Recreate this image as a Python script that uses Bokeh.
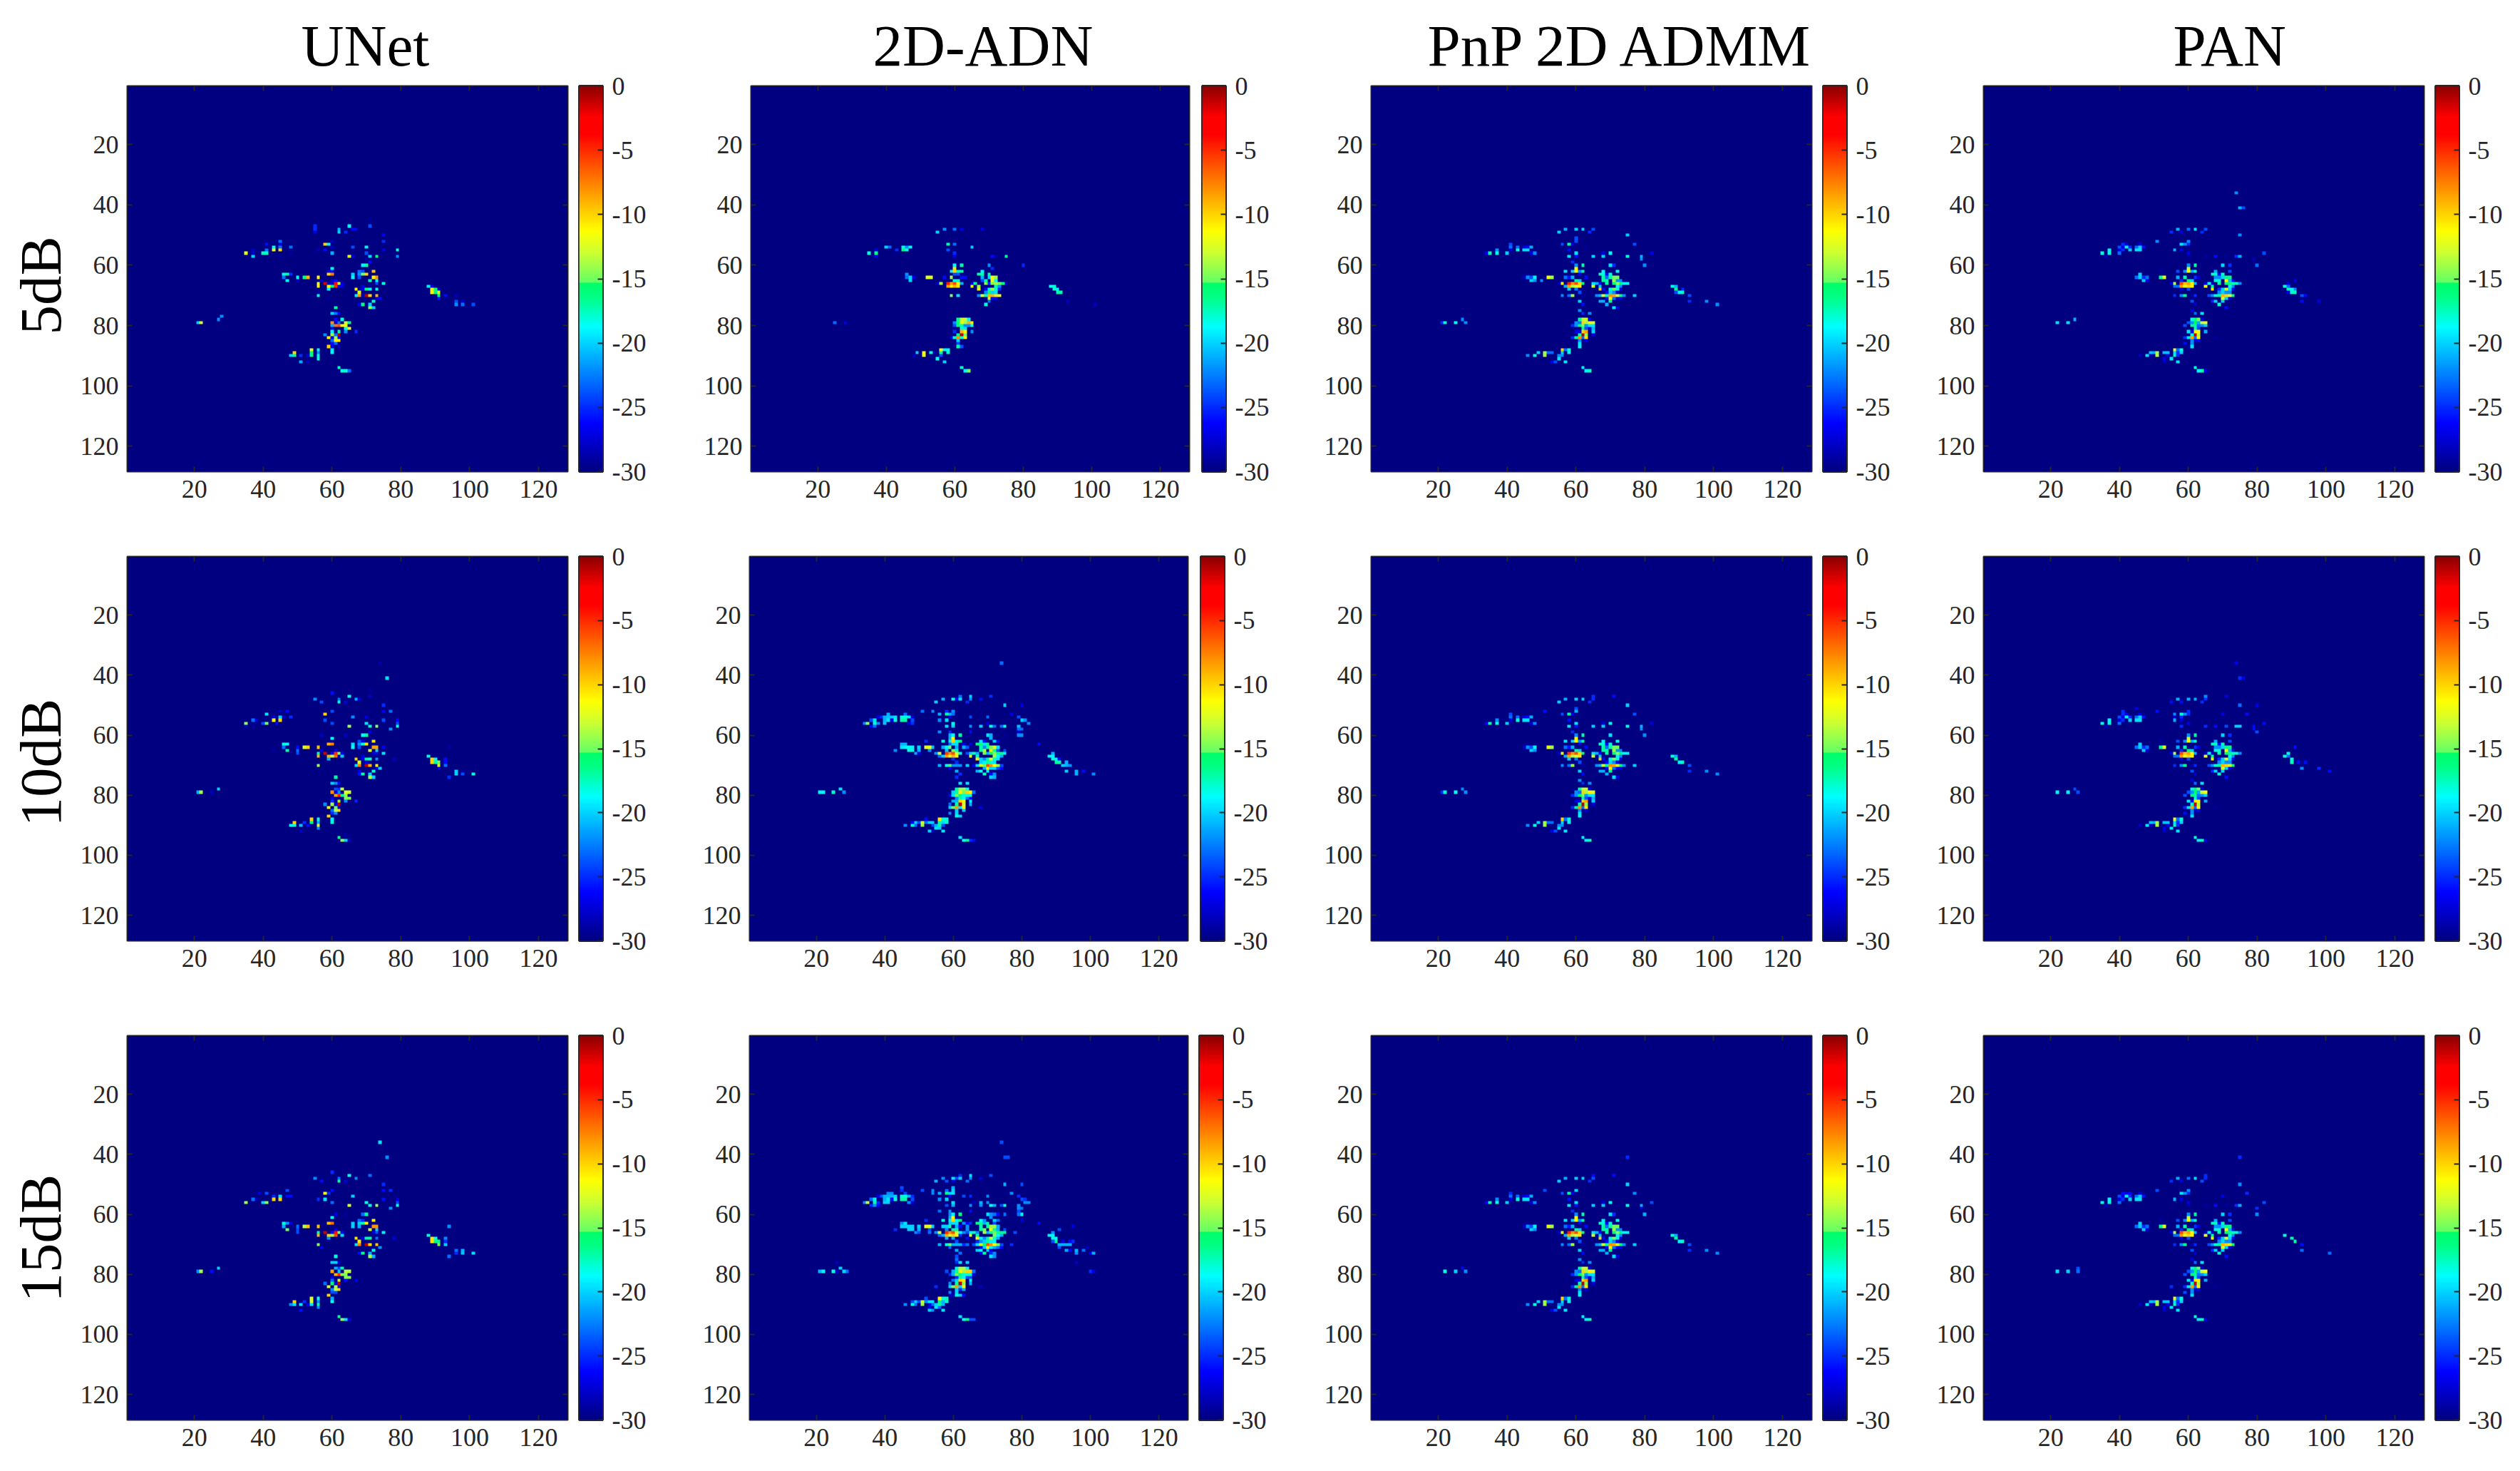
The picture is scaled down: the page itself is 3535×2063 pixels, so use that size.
import numpy as np
from bokeh.embed import file_html
from bokeh.resources import INLINE
from bokeh.layouts import column, row
from bokeh.models import FixedTicker, LinearAxis, LinearColorMapper, Range1d, Title
from bokeh.plotting import figure

col_titles = ["UNet", "2D-ADN", "PnP 2D ADMM", "PAN"]
row_titles = ["5dB", "10dB", "15dB"]
axis_ticks = [20, 40, 60, 80, 100, 120]
bar_ticks = [-30, -25, -20, -15, -10, -5, 0]

# (column, row, dB) for each pixel above the -30 dB floor
r1c1 = [(71,45,-29),(55,47,-25),(65,47,-19),(71,47,-24),(55,48,-25),(62,48,-21),(66,48,-26),(67,48,-26),(55,49,-27),(62,49,-20),(64,49,-25),(75,50,-27),(60,52,-28),(75,52,-25),(45,52,-23),(41,53,-26),(45,53,-27),(58,53,-10),(59,53,-19),(43,54,-19),(45,54,-23),(48,54,-23),(60,54,-28),(66,54,-24),(70,54,-19),(37,55,-28),(41,55,-23),(43,55,-12),(45,55,-10),(56,55,-28),(58,55,-26),(75,55,-27),(79,55,-18),(35,56,-12),(37,56,-28),(40,56,-17.5),(41,56,-17.5),(48,56,-29),(60,56,-21),(70,56,-24),(37,57,-20),(45,57,-29),(65,57,-12),(66,57,-27),(71,57,-20),(73,57,-16),(79,57,-22),(70,58,-29),(71,59,-26),(69,60,-19),(70,60,-17),(60,61,-18),(59,62,-27),(60,62,-26),(68,62,-23),(69,62,-24),(72,62,-9.5),(59,63,-10),(60,63,-7.5),(66,63,-20),(68,63,-22),(69,63,-15),(70,63,-10),(46,63,-18),(47,63,-17),(48,63,-25),(46,64,-23),(50,64,-19),(52,64,-16),(53,64,-9),(56,64,-11),(66,64,-19),(68,64,-24),(72,64,-11),(73,64,-8),(47,65,-19),(50,65,-28),(57,65,-28),(60,65,-28),(61,65,-26),(71,65,-17.5),(73,65,-19),(56,66,-12),(58,66,-1.5),(59,66,-28),(60,66,-28),(61,66,-4),(62,66,-13),(63,66,-27),(73,66,-24),(75,66,-18),(56,67,-11),(59,67,-11),(60,67,-16),(61,67,-5),(62,67,-27),(63,67,-27),(69,67,-27),(88,67,-19),(89,67,-27),(59,68,-19),(67,68,-11),(69,68,-27),(70,68,-16),(71,68,-19),(73,68,-18),(89,68,-11),(90,68,-16.5),(91,68,-28),(56,69,-29),(68,69,-12.5),(89,69,-11),(90,69,-16),(91,69,-13),(56,70,-18),(67,70,-19),(68,70,-8),(69,70,-28),(70,70,-1),(71,70,-10),(73,70,-9),(91,70,-16),(93,70,-26),(96,70,-28),(59,71,-29),(73,71,-27),(74,71,-26),(91,71,-26),(72,72,-17.5),(96,72,-24),(98,72,-28),(68,73,-27),(69,73,-16),(71,73,-20),(96,73,-22),(98,73,-23),(101,73,-24),(61,74,-17),(71,74,-14.5),(72,74,-20),(60,76,-20),(61,76,-23),(62,76,-26),(28,77,-22),(27,78,-22),(61,78,-26),(63,78,-18),(21,79,-20),(22,79,-13),(60,79,-8),(61,79,-27),(62,79,-23),(64,79,-13),(65,79,-16),(60,80,-21),(61,80,-7),(62,80,-6),(63,80,-11),(64,80,-11),(60,81,-27),(64,81,-18),(65,81,-12),(60,82,-19),(62,82,-17),(64,82,-22),(67,82,-25),(58,83,-22),(60,83,-14),(61,83,-23),(62,83,-1),(59,84,-11),(60,84,-27),(61,84,-14),(62,84,-27),(60,85,-23),(61,85,-11),(62,85,-11),(60,86,-26),(61,86,-23),(59,87,-10),(60,87,-27),(62,87,-28),(54,88,-12),(56,88,-19),(60,88,-19),(49,89,-10),(54,89,-16),(56,89,-22),(60,89,-19),(48,90,-20),(49,90,-17),(51,90,-25),(53,90,-27),(54,90,-16),(56,90,-18),(56,91,-18),(51,92,-21),(53,92,-28),(62,94,-17.5),(63,95,-18),(64,95,-18),(65,95,-23)]

r1c2 = [(57,48,-22),(60,48,-23),(62,48,-27),(68,48,-27),(55,49,-20),(58,53,-17),(60,53,-23),(40,54,-20),(41,54,-23),(45,54,-18),(46,54,-22),(47,54,-19),(65,54,-20),(37,55,-27),(43,55,-25),(45,55,-16),(46,55,-18),(58,55,-24),(35,56,-18),(37,56,-16),(60,56,-25),(37,57,-27),(60,57,-27),(71,57,-26),(72,57,-29),(75,57,-17),(60,60,-19),(62,60,-17),(70,60,-22),(80,60,-25),(60,61,-10.5),(71,61,-25),(59,62,-19),(60,62,-10),(61,62,-17),(62,62,-17),(68,62,-19),(46,63,-22),(60,63,-24),(61,63,-24),(67,63,-17),(68,63,-17),(70,63,-17),(46,64,-23),(47,64,-20),(48,64,-27),(52,64,-12.5),(53,64,-12.5),(57,64,-26),(59,64,-14),(62,64,-26),(63,64,-26),(68,64,-21),(70,64,-20),(71,64,-12),(72,64,-14),(47,65,-20),(60,65,-18),(61,65,-18),(68,65,-24),(69,65,-17),(71,65,-12),(72,65,-19),(55,66,-28),(56,66,-14),(58,66,-4.5),(59,66,-8.5),(60,66,-6),(61,66,-11),(62,66,-21),(65,66,-27),(66,66,-17),(69,66,-14.5),(70,66,-25),(71,66,-14.5),(72,66,-14),(73,66,-15),(74,66,-16.5),(75,66,-28),(58,67,-8.5),(59,67,-11),(60,67,-9),(61,67,-10.5),(65,67,-12),(67,67,-14),(72,67,-17),(73,67,-22),(88,67,-18.5),(89,67,-18),(67,68,-11),(69,68,-26),(70,68,-18),(71,68,-14),(72,68,-18),(73,68,-25),(89,68,-18),(90,68,-19),(90,69,-17),(91,69,-17),(69,69,-22),(70,69,-16),(71,69,-20),(72,69,-19.5),(59,70,-14.5),(61,70,-19.5),(67,70,-22),(68,70,-13),(69,70,-17.5),(70,70,-9),(71,70,-9),(72,70,-10.5),(73,70,-12),(70,71,-13),(71,71,-26),(72,71,-26),(70,72,-23),(93,72,-28),(69,73,-18),(101,73,-28),(61,78,-16.5),(62,78,-13),(63,78,-13),(64,78,-19),(25,79,-23),(28,79,-27),(60,79,-22),(61,79,-16),(62,79,-11.5),(63,79,-14),(64,79,-9),(65,79,-11),(60,80,-24),(61,80,-16.5),(62,80,-17),(63,80,-22),(64,80,-22),(65,80,-18.5),(62,81,-18),(63,81,-19.5),(60,82,-25),(62,82,-9),(63,82,-11),(65,82,-22),(61,83,-16),(62,83,-1),(63,83,-15),(59,84,-27),(60,84,-18),(61,84,-8),(62,84,-18),(63,84,-11),(61,85,-20),(61,86,-24),(61,87,-17),(62,87,-24),(56,88,-11),(57,88,-19),(58,88,-19),(49,89,-20),(51,89,-11.5),(53,89,-18),(54,89,-28),(56,89,-17),(58,89,-17.5),(48,90,-28),(51,90,-12),(56,90,-24),(55,91,-18.5),(57,92,-20),(62,94,-17.5),(63,95,-19),(64,95,-15)]

r1c3 = [(57,48,-21),(60,48,-20),(62,48,-20),(65,48,-24),(55,49,-20),(64,49,-25),(75,50,-20),(60,51,-24),(60,52,-24),(41,53,-24),(56,53,-24),(58,53,-17),(59,53,-27),(77,53,-24),(41,54,-23),(43,54,-23),(45,54,-27),(46,54,-26),(47,54,-21),(63,54,-29),(37,55,-22),(41,55,-27),(43,55,-18),(45,55,-19.5),(46,55,-19.5),(58,55,-26),(34,56,-27),(35,56,-17),(37,56,-18),(40,56,-20),(47,56,-27),(48,56,-22),(60,56,-19.5),(68,56,-27),(70,56,-18.5),(82,56,-27),(58,57,-19.5),(60,57,-26),(65,57,-20),(68,57,-20),(75,57,-18),(79,57,-21),(79,58,-22),(59,59,-25),(60,60,-22),(62,60,-17),(70,60,-19.5),(71,60,-25),(80,60,-22),(60,61,-11),(57,62,-19.5),(59,62,-20),(60,62,-11),(61,62,-22),(62,62,-17),(68,62,-19),(72,62,-18.5),(46,63,-29),(61,63,-27),(67,63,-17.5),(68,63,-18),(69,63,-26),(70,63,-18),(45,64,-28),(46,64,-22),(47,64,-24),(48,64,-19),(52,64,-12),(53,64,-14),(57,64,-23),(58,64,-25.5),(59,64,-21),(63,64,-26),(68,64,-17),(69,64,-23),(70,64,-17),(71,64,-15),(72,64,-15),(47,65,-20),(48,65,-22),(50,65,-22),(60,65,-17),(61,65,-20),(68,65,-17),(69,65,-17),(71,65,-14),(72,65,-22),(73,65,-22),(55,66,-28),(56,66,-12),(58,66,-4.5),(59,66,-8),(60,66,-6),(61,66,-10),(62,66,-16.5),(65,66,-19.5),(66,66,-21),(67,66,-26),(69,66,-17),(71,66,-16),(72,66,-14.5),(73,66,-16),(74,66,-19),(75,66,-19),(57,67,-21),(58,67,-8.5),(59,67,-14),(60,67,-12.5),(61,67,-10.5),(65,67,-13),(67,67,-20),(72,67,-19),(73,67,-22),(88,67,-18),(89,67,-21),(58,68,-20),(60,68,-22.5),(67,68,-10),(68,68,-26),(70,68,-18),(71,68,-15),(72,68,-18),(73,68,-27),(89,68,-16.5),(91,68,-25),(61,69,-24),(69,69,-26),(70,69,-20),(71,69,-22),(72,69,-27),(89,69,-24),(90,69,-19),(91,69,-17.5),(56,70,-22),(58,70,-23),(59,70,-14),(62,70,-29),(66,70,-22),(67,70,-21),(68,70,-13),(69,70,-17),(70,70,-8),(71,70,-8.5),(72,70,-13),(73,70,-16),(74,70,-22),(77,70,-20),(93,70,-24),(69,71,-26),(70,71,-11),(71,71,-23),(72,71,-27),(73,71,-27),(61,72,-20),(67,72,-21),(68,72,-21),(70,72,-17),(93,72,-25),(98,72,-22),(62,73,-26),(69,73,-21),(101,73,-22),(71,74,-19.5),(72,74,-27),(61,75,-22),(62,76,-25),(64,76,-22),(61,78,-17),(62,78,-13),(63,78,-13),(64,78,-27),(27,78,-22),(21,79,-25),(22,79,-18),(25,79,-18.5),(28,79,-22),(60,79,-22),(61,79,-23),(62,79,-10),(63,79,-14),(64,79,-11),(65,79,-12.5),(59,80,-25),(60,80,-22),(61,80,-16),(62,80,-15),(63,80,-22),(64,80,-19.5),(65,80,-19.5),(62,81,-17),(63,81,-24),(64,81,-27),(65,81,-21),(60,82,-27),(61,82,-27),(62,82,-10),(63,82,-8.5),(65,82,-20),(61,83,-17),(62,83,-1),(63,83,-14.5),(65,83,-27),(59,84,-25),(60,84,-16.5),(61,84,-8),(62,84,-23),(63,84,-10.5),(61,85,-22),(63,85,-27),(61,86,-19.5),(61,87,-19),(56,88,-10),(57,88,-23),(58,88,-18),(49,89,-20),(51,89,-14),(52,89,-23),(53,89,-23),(56,89,-20),(58,89,-19),(46,90,-22),(48,90,-18),(51,90,-14),(55,90,-22),(56,90,-22),(55,91,-19.5),(53,92,-27),(54,92,-24),(57,92,-19.5),(62,94,-19),(63,95,-19),(64,95,-17.5)]

r1c4 = [(74,36,-22),(75,41,-21),(76,41,-24),(57,48,-21),(60,48,-23),(62,48,-19.5),(65,48,-24),(55,49,-25),(58,49,-27),(64,49,-25),(75,50,-22),(51,52,-22),(60,52,-22),(41,53,-25),(42,53,-27),(46,53,-27),(58,53,-19.5),(59,53,-22),(60,53,-25),(40,54,-24),(41,54,-27),(42,54,-19),(43,54,-25),(45,54,-23),(46,54,-20),(47,54,-26),(40,55,-27),(41,55,-25),(43,55,-20),(45,55,-19.5),(46,55,-19.5),(56,55,-21),(58,55,-27),(37,55,-19),(35,56,-18),(37,56,-18),(40,56,-23),(60,56,-27),(82,56,-24),(36,57,-28),(60,57,-29),(65,57,-29),(68,57,-26),(71,57,-29),(74,57,-25),(75,57,-21),(79,58,-28),(60,60,-22),(62,60,-17),(70,60,-20),(72,60,-25),(80,60,-23),(60,61,-13),(52,62,-29),(57,62,-24),(59,62,-22),(60,62,-11.5),(61,62,-21),(62,62,-18),(68,62,-21),(72,62,-24),(46,63,-20),(67,63,-17.5),(68,63,-17.5),(69,63,-26),(70,63,-17.5),(45,64,-23),(46,64,-20),(47,64,-25),(48,64,-23),(52,64,-16.5),(53,64,-12.5),(57,64,-21),(59,64,-17),(62,64,-25),(63,64,-27),(68,64,-22),(69,64,-22),(70,64,-20),(71,64,-16.5),(72,64,-16.5),(47,65,-20),(48,65,-27),(58,65,-25),(60,65,-16.5),(61,65,-20),(68,65,-18),(69,65,-18),(71,65,-11),(72,65,-21),(73,65,-26),(91,65,-27),(55,66,-27),(56,66,-13.5),(58,66,-6),(59,66,-9.5),(60,66,-8.5),(61,66,-11),(62,66,-21),(65,66,-27),(66,66,-19),(67,66,-28),(69,66,-17),(71,66,-16.5),(72,66,-16),(73,66,-17.5),(74,66,-17.5),(75,66,-22),(89,66,-27),(56,67,-23),(57,67,-23),(58,67,-8.5),(59,67,-12.5),(60,67,-10),(61,67,-11),(65,67,-12),(67,67,-17),(72,67,-18),(73,67,-22),(88,67,-18),(89,67,-23),(58,68,-27),(60,68,-24),(67,68,-11),(69,68,-25),(70,68,-20),(71,68,-13),(72,68,-20),(73,68,-26),(89,68,-17.5),(90,68,-19),(91,68,-22),(69,69,-22),(70,69,-20),(71,69,-22),(72,69,-22),(89,69,-27),(90,69,-17.5),(91,69,-17.5),(56,70,-25),(58,70,-22),(59,70,-16.5),(61,70,-29),(62,70,-25),(66,70,-24),(67,70,-22),(68,70,-18),(69,70,-17),(70,70,-9),(71,70,-10),(72,70,-12.5),(73,70,-16.5),(93,70,-24),(94,70,-26),(70,71,-13),(71,71,-20),(72,71,-27),(61,72,-24),(67,72,-25),(68,72,-20),(70,72,-20),(93,72,-26),(98,72,-27),(62,73,-28),(69,73,-18),(71,74,-26),(61,75,-27),(62,76,-23),(64,76,-19.5),(22,79,-19.5),(25,79,-19.5),(27,78,-21),(61,78,-18),(62,78,-16),(63,78,-15),(64,78,-27),(60,79,-24),(61,79,-22),(62,79,-15.5),(63,79,-21),(64,79,-13),(65,79,-12),(59,80,-24),(61,80,-16.5),(62,80,-17),(63,80,-23),(64,80,-22),(65,80,-20),(62,81,-18),(63,81,-24),(60,82,-19.5),(61,82,-27),(62,82,-11),(63,82,-11),(65,82,-21),(61,83,-18),(62,83,-1),(63,83,-13.5),(59,84,-25),(60,84,-19.5),(61,84,-8.5),(62,84,-23),(63,84,-11),(68,84,-29),(61,85,-22),(62,85,-28),(63,85,-26),(59,86,-26),(61,86,-22),(60,87,-29),(61,87,-19.5),(56,88,-12),(57,88,-23),(58,88,-18),(49,89,-20.5),(50,89,-21),(51,89,-14),(53,89,-20.5),(54,89,-20.5),(56,89,-19.5),(57,89,-25),(58,89,-20),(46,90,-28),(48,90,-19.5),(49,90,-28),(51,90,-13.5),(54,90,-27),(56,90,-17.5),(57,90,-25),(53,91,-27),(55,91,-19.5),(53,92,-28),(57,92,-19.5),(62,94,-18),(63,95,-19),(64,95,-17),(65,95,-27)]

r2c1 = [(74,36,-29),(76,41,-19.5),(71,45,-29),(60,46,-26),(65,47,-18.5),(71,47,-28),(55,48,-22),(62,48,-23),(67,48,-21),(68,48,-27),(57,49,-24),(62,49,-18),(64,49,-27),(75,50,-25),(45,52,-28),(47,52,-26),(60,52,-24),(75,52,-27),(77,52,-23),(41,53,-19.5),(58,53,-10),(43,54,-27),(45,54,-20),(46,54,-28),(48,54,-25),(66,54,-22),(70,54,-27),(37,55,-23),(38,55,-27),(43,55,-11),(45,55,-10),(58,55,-24),(75,55,-24),(79,55,-26),(35,56,-14.5),(40,56,-24),(41,56,-15),(44,56,-26),(60,56,-24),(70,56,-19.5),(79,56,-24),(35,57,-28),(37,57,-29),(65,57,-14),(71,57,-17.5),(73,57,-14.5),(79,57,-18),(77,58,-22),(71,59,-27),(57,60,-28),(64,60,-28),(69,60,-18.5),(70,60,-17),(60,61,-18.5),(68,62,-24),(69,62,-27),(72,62,-10.5),(46,63,-18),(47,63,-19),(59,63,-9),(60,63,-7.5),(66,63,-19.5),(68,63,-22),(69,63,-18),(70,63,-10.5),(46,64,-23),(50,64,-26),(52,64,-12.5),(53,64,-10),(56,64,-9.5),(66,64,-18.5),(68,64,-24),(72,64,-8.5),(73,64,-8.5),(75,64,-27),(94,64,-29),(43,65,-29),(47,65,-17),(50,65,-23),(57,65,-27),(61,65,-27),(71,65,-12),(73,65,-20),(50,66,-24),(56,66,-17),(58,66,-1.5),(60,66,-26),(61,66,-5),(62,66,-14.5),(63,66,-26),(72,66,-27),(73,66,-27),(75,66,-19.5),(56,67,-9),(59,67,-9),(60,67,-13),(61,67,-7),(62,67,-28),(63,67,-20),(69,67,-27),(88,67,-18),(59,68,-21),(67,68,-10),(69,68,-27),(70,68,-16.5),(71,68,-18),(73,68,-22),(78,68,-28),(89,68,-10),(90,68,-19),(93,68,-26),(68,69,-12.5),(70,69,-27),(89,69,-10),(90,69,-17),(91,69,-15),(93,69,-26),(56,70,-14),(67,70,-19.5),(68,70,-7.5),(70,70,-1),(71,70,-9),(73,70,-11),(91,70,-12.5),(93,70,-23),(73,71,-27),(74,71,-20),(91,71,-27),(68,72,-27),(72,72,-18),(96,72,-20),(98,72,-29),(68,73,-26),(69,73,-17),(71,73,-20),(96,73,-20),(98,73,-24),(101,73,-18),(61,74,-17),(71,74,-14),(72,74,-20),(94,74,-25),(60,76,-20),(61,76,-22),(62,76,-26),(27,78,-20),(61,78,-24),(62,78,-25),(63,78,-13),(21,79,-21),(22,79,-14),(25,79,-28),(60,79,-8),(61,79,-27),(62,79,-22),(64,79,-12.5),(65,79,-13),(61,80,-8.5),(62,80,-4.5),(63,80,-17),(64,80,-14),(60,81,-27),(64,81,-15),(65,81,-14.5),(60,82,-25),(62,82,-14),(64,82,-22),(67,82,-25),(58,83,-22),(60,83,-14),(61,83,-27),(62,83,-1),(59,84,-11),(61,84,-15),(62,84,-27),(60,85,-23),(61,85,-13),(62,85,-10),(60,86,-25),(61,86,-22),(59,87,-10),(54,88,-10),(56,88,-18),(60,88,-19),(49,89,-10),(52,89,-25),(54,89,-16.5),(56,89,-21),(60,89,-18),(48,90,-19),(49,90,-18),(51,90,-20.5),(53,90,-26),(56,90,-12.5),(56,91,-22),(51,92,-28),(64,93,-29),(62,94,-16.5),(63,95,-14.5),(64,95,-20),(65,95,-28)]

r2c2 = [(74,36,-23),(62,47,-23),(65,47,-20),(71,47,-25),(57,48,-21),(60,48,-18),(61,48,-26),(62,48,-19.5),(65,48,-22),(68,48,-26),(55,49,-20),(64,49,-25),(75,50,-20),(80,50,-27),(51,52,-23),(54,52,-22),(58,52,-25),(60,52,-22),(41,53,-21),(46,53,-23),(56,53,-21),(58,53,-17),(59,53,-21),(60,53,-23),(77,53,-27),(38,54,-27),(39,54,-25),(40,54,-21),(41,54,-20.5),(42,54,-20.5),(43,54,-19.5),(45,54,-18),(46,54,-18),(47,54,-19.5),(48,54,-27),(59,54,-27),(65,54,-24),(70,54,-23),(79,54,-24),(36,55,-24),(37,55,-19.5),(40,55,-21),(41,55,-19.5),(42,55,-27),(43,55,-18),(45,55,-17),(46,55,-17),(48,55,-24),(56,55,-22),(58,55,-19.5),(80,55,-20),(81,55,-22),(34,56,-22),(35,56,-14.5),(37,56,-17.5),(38,56,-22),(40,56,-20.5),(47,56,-27),(48,56,-25),(60,56,-18),(70,56,-27),(82,56,-22),(36,57,-26),(37,57,-23),(58,57,-19.5),(60,57,-20),(65,57,-22),(68,57,-20),(71,57,-18),(72,57,-23),(74,57,-23),(75,57,-18.5),(79,57,-20.5),(79,58,-23),(80,58,-23),(56,59,-22),(59,59,-25),(65,59,-26),(79,59,-27),(59,60,-21),(60,60,-18.5),(62,60,-17),(70,60,-19.5),(71,60,-21),(75,60,-29),(79,60,-22),(80,60,-22),(59,61,-21),(60,61,-11),(71,61,-21),(52,62,-25),(57,62,-18),(59,62,-19),(60,62,-10),(61,62,-18),(62,62,-16.5),(68,62,-19.5),(69,62,-26),(72,62,-20),(73,62,-26),(45,63,-21),(46,63,-21),(59,63,-23),(60,63,-19.5),(61,63,-19.5),(63,63,-27),(65,63,-27),(67,63,-16.5),(68,63,-16.5),(69,63,-19.5),(70,63,-16.5),(85,63,-26),(45,64,-19.5),(46,64,-19),(47,64,-18.5),(48,64,-19),(50,64,-20),(52,64,-12.5),(53,64,-11.5),(54,64,-20.5),(57,64,-21),(58,64,-19),(59,64,-15),(61,64,-21),(63,64,-21),(64,64,-24),(68,64,-17),(69,64,-22),(70,64,-17),(71,64,-15),(72,64,-12.5),(73,64,-19.5),(43,65,-22),(47,65,-18),(48,65,-18),(50,65,-21),(53,65,-22),(58,65,-20.5),(60,65,-15),(61,65,-17.5),(68,65,-17),(69,65,-13.5),(71,65,-10.5),(72,65,-17),(73,65,-24),(75,65,-24),(49,66,-21),(50,66,-27),(55,66,-22),(56,66,-13),(58,66,-5.5),(59,66,-8),(60,66,-6),(61,66,-12.5),(62,66,-18),(64,66,-24),(65,66,-20),(66,66,-17.5),(67,66,-21),(69,66,-15),(70,66,-21),(71,66,-16),(72,66,-14.5),(73,66,-16.5),(74,66,-16.5),(75,66,-19),(89,66,-21),(56,67,-23),(57,67,-20),(58,67,-8.5),(59,67,-12.5),(60,67,-9),(61,67,-11),(65,67,-12),(67,67,-17.5),(72,67,-14),(73,67,-19),(74,67,-21),(88,67,-19),(89,67,-19),(60,68,-25),(67,68,-10.5),(68,68,-20),(69,68,-22),(70,68,-17),(71,68,-12.5),(72,68,-18),(73,68,-19.5),(89,68,-18),(90,68,-19),(91,68,-26),(61,69,-25),(68,69,-20),(69,69,-19),(70,69,-17),(71,69,-18),(72,69,-19.5),(90,69,-17),(91,69,-17),(93,69,-21),(56,70,-21),(58,70,-18.5),(59,70,-15),(60,70,-22),(61,70,-22),(62,70,-22),(64,70,-20),(66,70,-27),(67,70,-19.5),(68,70,-12.5),(69,70,-15),(70,70,-6),(71,70,-8),(72,70,-11.5),(73,70,-14),(74,70,-24),(92,70,-20),(93,70,-21),(94,70,-22),(59,71,-26),(69,71,-21),(70,71,-11),(71,71,-20),(72,71,-20),(73,71,-24),(74,71,-26),(61,72,-21),(67,72,-21),(68,72,-18.5),(70,72,-19),(93,72,-20),(96,72,-21),(98,72,-26),(62,73,-25),(69,73,-17.5),(71,73,-26),(72,73,-22),(96,73,-21),(101,73,-22),(61,74,-25),(71,74,-20),(72,74,-21),(62,76,-19.5),(64,76,-19.5),(27,78,-19.5),(61,78,-17),(62,78,-14),(63,78,-14),(64,78,-18.5),(21,79,-19),(22,79,-19),(25,79,-17.5),(28,79,-22),(60,79,-20),(61,79,-17),(62,79,-11),(63,79,-15),(64,79,-10),(65,79,-11),(66,79,-23),(59,80,-26),(60,80,-19.5),(61,80,-15),(62,80,-16.5),(63,80,-18),(64,80,-18),(65,80,-18),(61,81,-22),(62,81,-17),(63,81,-18.5),(64,81,-23),(65,81,-26),(60,82,-21),(61,82,-21),(62,82,-10),(63,82,-11),(65,82,-19),(59,83,-23),(61,83,-17),(62,83,-1),(63,83,-12.5),(65,83,-21),(59,84,-20),(60,84,-15),(61,84,-8.5),(62,84,-19.5),(63,84,-11),(68,84,-27),(61,85,-20),(63,85,-20),(59,86,-22),(61,86,-20),(61,87,-18),(62,87,-20),(52,88,-26),(56,88,-10.5),(57,88,-18),(58,88,-18),(48,89,-26),(49,89,-20),(50,89,-24),(51,89,-13),(52,89,-23),(53,89,-20),(54,89,-20),(56,89,-17),(57,89,-20),(58,89,-18),(46,90,-22),(48,90,-18),(49,90,-23),(51,90,-14),(54,90,-24),(55,90,-21),(56,90,-17),(57,90,-24),(55,91,-19.5),(56,91,-20),(53,92,-20),(54,92,-28),(57,92,-19.5),(62,94,-19.5),(63,95,-18.5),(64,95,-16.5),(65,95,-25),(66,95,-26)]

r3c1 = [(74,36,-19.5),(76,41,-22),(60,46,-25),(65,47,-18.5),(71,47,-23),(55,48,-22),(62,48,-23),(67,48,-22),(57,49,-26),(62,49,-17),(64,49,-27),(75,50,-25),(47,52,-24),(60,52,-26),(75,52,-26),(77,52,-25),(39,53,-27),(41,53,-24),(58,53,-11.5),(59,53,-25),(43,54,-25),(45,54,-19.5),(47,54,-26),(48,54,-26),(66,54,-20),(37,55,-23),(38,55,-28),(43,55,-10),(45,55,-10),(56,55,-25),(58,55,-19.5),(75,55,-26),(79,55,-27),(35,56,-14),(40,56,-20),(41,56,-14.5),(60,56,-23),(70,56,-18),(79,56,-24),(65,57,-12.5),(71,57,-18),(73,57,-14),(79,57,-18),(77,58,-22),(71,59,-29),(61,60,-27),(64,60,-29),(69,60,-23),(70,60,-17),(60,61,-18.5),(68,62,-23),(69,62,-25),(72,62,-11),(46,63,-18),(47,63,-22),(48,63,-27),(59,63,-9.5),(60,63,-7),(66,63,-20),(68,63,-20),(69,63,-17),(70,63,-11),(46,64,-21),(50,64,-23),(52,64,-13.5),(53,64,-9.5),(56,64,-9.5),(66,64,-20),(68,64,-21),(72,64,-8),(73,64,-8),(94,64,-22),(47,65,-15),(50,65,-24),(61,65,-27),(71,65,-12.5),(73,65,-20),(50,66,-24),(56,66,-17),(58,66,-1.5),(60,66,-26),(61,66,-4),(62,66,-15),(63,66,-26),(72,66,-27),(73,66,-24),(75,66,-19),(56,67,-9),(59,67,-10),(60,67,-14),(61,67,-6),(63,67,-19.5),(88,67,-18),(59,68,-22),(67,68,-10.5),(69,68,-27),(70,68,-17),(71,68,-17),(73,68,-23),(78,68,-27),(89,68,-10.5),(90,68,-18.5),(93,68,-22),(68,69,-10.5),(89,69,-10.5),(90,69,-16.5),(91,69,-16.5),(93,69,-25),(56,70,-14.5),(67,70,-19.5),(68,70,-7.5),(70,70,-1),(71,70,-10.5),(73,70,-9.5),(91,70,-15),(93,70,-20),(57,71,-27),(74,71,-22),(72,72,-18.5),(96,72,-23),(98,72,-21),(68,73,-26),(69,73,-16.5),(71,73,-21),(96,73,-25),(98,73,-20.5),(101,73,-19.5),(61,74,-18),(71,74,-14),(72,74,-21),(94,74,-23),(60,76,-20),(61,76,-20),(62,76,-27),(27,78,-20),(61,78,-21),(62,78,-24),(63,78,-17),(21,79,-22),(22,79,-14),(25,79,-26),(60,79,-8.5),(62,79,-20.5),(64,79,-13.5),(65,79,-13.5),(61,80,-9),(62,80,-5),(63,80,-14.5),(64,80,-14.5),(60,81,-27),(64,81,-14.5),(65,81,-14.5),(60,82,-23),(62,82,-13),(64,82,-26),(67,82,-27),(58,83,-23),(60,83,-15.5),(61,83,-27),(62,83,-1),(59,84,-12.5),(61,84,-13.5),(62,84,-27),(60,85,-22),(61,85,-13),(62,85,-10),(60,86,-24),(61,86,-24),(59,87,-10),(54,88,-12.5),(56,88,-18.5),(60,88,-21),(49,89,-10),(52,89,-25),(54,89,-13),(56,89,-22),(60,89,-18.5),(48,90,-22),(49,90,-19.5),(51,90,-19.5),(53,90,-27),(54,90,-19.5),(56,90,-17),(56,91,-22),(51,92,-26),(62,94,-16.5),(63,95,-14.5),(64,95,-19.5),(65,95,-27)]

r3c2 = [(74,36,-24),(75,41,-24),(76,41,-24),(62,47,-25),(65,47,-19.5),(71,47,-24),(57,48,-22),(60,48,-19.5),(61,48,-24),(62,48,-20),(65,48,-22),(68,48,-27),(55,49,-21),(58,49,-24),(60,49,-27),(64,49,-23),(75,50,-21),(80,50,-24),(45,51,-24),(60,51,-21),(45,52,-25),(51,52,-24),(54,52,-22),(58,52,-23),(60,52,-20),(41,53,-22),(42,53,-22),(46,53,-24),(54,53,-22),(56,53,-21),(58,53,-16.5),(59,53,-20),(60,53,-19.5),(77,53,-22),(38,54,-27),(39,54,-24),(40,54,-21),(41,54,-21),(42,54,-21),(43,54,-20),(45,54,-18),(46,54,-18),(47,54,-21),(48,54,-25),(59,54,-26),(63,54,-24),(65,54,-25),(70,54,-22),(79,54,-25),(36,55,-23),(37,55,-19),(40,55,-21),(41,55,-19.5),(42,55,-26),(43,55,-18),(45,55,-17),(46,55,-17),(48,55,-24),(56,55,-22),(58,55,-20),(80,55,-24),(81,55,-25),(34,56,-22),(35,56,-13),(37,56,-17),(38,56,-25),(40,56,-20),(41,56,-20),(47,56,-22),(48,56,-27),(60,56,-19.5),(66,56,-28),(68,56,-21),(70,56,-22),(81,56,-22),(82,56,-22),(36,57,-25),(37,57,-22),(38,57,-26),(58,57,-24),(60,57,-21),(65,57,-22),(68,57,-22),(71,57,-18.5),(72,57,-21),(74,57,-24),(75,57,-18),(79,57,-22),(79,58,-22),(80,58,-23),(56,59,-23),(59,59,-22),(65,59,-26),(79,59,-24),(59,60,-22),(60,60,-19),(62,60,-16.5),(70,60,-19.5),(71,60,-22),(72,60,-23),(73,60,-26),(75,60,-23),(79,60,-23),(80,60,-19),(59,61,-21),(60,61,-11),(71,61,-22),(52,62,-25),(57,62,-18),(59,62,-19),(60,62,-10),(61,62,-19),(62,62,-16),(68,62,-18.5),(69,62,-22),(72,62,-20),(73,62,-23),(80,62,-27),(45,63,-22),(46,63,-19.5),(59,63,-20),(60,63,-19.5),(61,63,-19.5),(63,63,-22),(64,63,-26),(65,63,-25),(67,63,-16.5),(68,63,-17),(69,63,-21),(70,63,-17),(72,63,-24),(85,63,-26),(45,64,-20),(46,64,-20),(47,64,-20),(48,64,-20),(50,64,-20),(52,64,-12),(53,64,-12),(54,64,-20),(57,64,-20),(58,64,-20),(59,64,-17),(61,64,-21),(62,64,-26),(64,64,-22),(68,64,-17),(70,64,-17),(71,64,-14),(72,64,-14),(73,64,-21),(95,64,-27),(43,65,-25),(47,65,-20),(48,65,-20),(50,65,-21),(53,65,-24),(58,65,-22),(60,65,-17),(61,65,-17),(64,65,-22),(68,65,-17),(69,65,-15),(71,65,-11),(72,65,-17),(73,65,-21),(75,65,-24),(91,65,-24),(49,66,-22),(50,66,-24),(53,66,-23),(55,66,-22),(56,66,-13),(58,66,-5),(59,66,-8),(60,66,-6),(61,66,-13),(62,66,-19),(63,66,-22),(64,66,-24),(65,66,-19),(66,66,-17.5),(67,66,-22),(69,66,-14),(70,66,-21),(71,66,-17),(72,66,-15),(73,66,-16.5),(74,66,-16.5),(75,66,-16.5),(78,66,-24),(89,66,-22),(56,67,-23),(57,67,-21),(58,67,-9),(59,67,-13),(60,67,-10),(61,67,-11),(62,67,-25),(65,67,-12.5),(67,67,-17),(72,67,-15),(73,67,-19),(74,67,-21),(88,67,-19),(89,67,-19),(58,68,-21),(60,68,-21),(64,68,-26),(67,68,-11),(68,68,-19),(69,68,-22),(70,68,-17),(71,68,-13),(72,68,-18),(73,68,-21),(89,68,-18),(90,68,-18.5),(61,69,-24),(67,69,-25),(68,69,-22),(69,69,-20),(70,69,-17),(71,69,-19),(72,69,-19),(89,69,-24),(90,69,-17),(92,69,-27),(94,69,-26),(95,69,-25),(56,70,-21),(58,70,-18),(59,70,-15),(60,70,-21),(61,70,-21),(62,70,-21),(63,70,-25),(64,70,-23),(66,70,-24),(67,70,-19.5),(68,70,-13),(69,70,-16),(70,70,-6),(71,70,-8),(72,70,-12),(73,70,-15),(74,70,-24),(77,70,-25),(91,70,-21),(92,70,-21),(93,70,-21),(94,70,-21),(59,71,-23),(68,71,-27),(69,71,-20),(70,71,-11),(71,71,-18),(72,71,-21),(73,71,-23),(74,71,-26),(91,71,-24),(99,71,-28),(61,72,-21),(67,72,-20),(68,72,-19),(70,72,-20),(71,72,-27),(93,72,-21),(94,72,-26),(96,72,-21),(98,72,-23),(62,73,-23),(68,73,-27),(69,73,-17),(71,73,-25),(72,73,-22),(96,73,-22),(100,73,-27),(101,73,-21),(61,74,-24),(71,74,-19.5),(72,74,-22),(61,75,-23),(26,76,-28),(61,76,-25),(62,76,-19.5),(64,76,-20),(96,76,-28),(27,78,-20),(61,78,-18),(62,78,-13.5),(63,78,-13.5),(64,78,-19),(21,79,-21),(22,79,-19),(25,79,-18),(26,79,-28),(28,79,-20),(29,79,-23),(58,79,-24),(60,79,-21),(61,79,-17),(62,79,-11.5),(63,79,-14),(64,79,-10),(65,79,-10),(66,79,-23),(100,79,-25),(101,79,-27),(59,80,-25),(60,80,-21),(61,80,-15),(62,80,-16),(63,80,-18),(64,80,-18),(65,80,-18),(66,80,-27),(61,81,-25),(62,81,-17),(63,81,-19),(64,81,-24),(65,81,-24),(60,82,-23),(61,82,-20),(62,82,-10),(63,82,-10.5),(65,82,-19),(59,83,-22),(61,83,-17),(62,83,-1),(63,83,-14),(65,83,-21),(55,84,-25),(59,84,-20),(60,84,-15),(61,84,-8.5),(62,84,-20),(63,84,-11),(68,84,-28),(61,85,-20),(62,85,-25),(63,85,-21),(59,86,-22),(61,86,-20),(59,87,-28),(60,87,-28),(61,87,-18),(62,87,-20),(63,87,-26),(52,88,-24),(56,88,-11),(57,88,-18),(58,88,-17.5),(48,89,-24),(49,89,-20),(50,89,-24),(51,89,-13),(52,89,-22),(53,89,-19.5),(54,89,-19.5),(56,89,-16),(57,89,-21),(58,89,-18),(46,90,-22),(48,90,-18),(49,90,-23),(51,90,-14),(53,90,-27),(54,90,-23),(55,90,-20),(56,90,-17),(57,90,-21),(53,91,-27),(55,91,-19.5),(56,91,-23),(53,92,-20),(54,92,-22),(57,92,-19.5),(62,94,-19.5),(63,95,-18.5),(64,95,-16),(65,95,-24),(66,95,-24)]

# Panels that differ only a little from the 5dB panel of the same method (-30 clears a pixel)
r2c3_edits = [(71,47,-26),(65,47,-25),(65,48,-25),(51,52,-26),(60,52,-21),(71,60,-30),(63,54,-30),(50,65,-30),(91,68,-30),(89,69,-30),(58,66,-5),(63,82,-8.5),(37,55,-22),(62,81,-17),(69,62,-30)]
r3c3_edits = [(75,41,-25),(65,47,-26),(71,47,-26),(60,51,-30),(51,52,-24),(60,52,-20),(41,53,-25),(77,53,-22),(82,56,-24),(79,58,-27),(80,60,-21),(21,79,-30),(22,79,-18),(25,79,-20),(27,78,-26),(91,68,-30),(89,69,-30),(50,65,-30),(63,54,-30)]
r2c4_edits = [(74,36,-27),(75,41,-25),(76,41,-27),(65,47,-22),(71,47,-27),(65,48,-25),(60,48,-21),(62,48,-21),(55,49,-26),(58,49,-26),(75,50,-23),(80,50,-27),(45,51,-27),(60,52,-25),(51,52,-26),(56,53,-22),(58,53,-18),(70,53,-27),(77,53,-26),(41,52,-25),(56,54,-27),(58,54,-25),(60,57,-30),(58,57,-25),(65,57,-25),(71,57,-24),(74,57,-20),(75,57,-20),(82,56,-26),(79,57,-26),(79,58,-26),(80,59,-24),(80,60,-30),(22,79,-19),(25,79,-19),(27,78,-24),(28,79,-24),(89,66,-18),(91,65,-30),(91,64,-26),(92,69,-26),(94,69,-26),(93,70,-30),(94,70,-30),(93,71,-22),(93,72,-30),(98,71,-25),(98,72,-30),(101,72,-26),(90,68,-18),(89,68,-30),(91,68,-30),(89,69,-30),(91,69,-30)]
r3c4_edits = [(74,36,-30),(75,41,-25),(76,41,-30),(65,47,-25),(65,48,-25),(64,49,-24),(51,52,-24),(60,52,-22),(41,53,-26),(43,53,-26),(70,54,-27),(77,53,-25),(82,56,-24),(80,58,-25),(79,58,-30),(80,60,-22),(22,79,-19.5),(25,79,-20),(27,78,-30),(28,78,-24),(28,79,-23),(55,84,-25),(59,86,-24),(91,65,-30),(89,66,-30),(89,67,-30),(90,68,-17),(89,68,-30),(91,68,-30),(91,69,-17),(89,69,-30),(90,69,-30),(93,70,-26),(94,70,-30),(93,72,-23),(98,72,-30),(101,73,-23)]

# Column-map anchors of the colour bar: dB value and RGB
cmap_db = [-30.0, -26.25, -18.75, -16.5, -15.3, -15.29, -13.0, -11.25, -7.5, -3.75, -2.4, 0.0]
cmap_r = [0, 0, 0, 0, 0, 100, 204, 255, 255, 255, 255, 140]
cmap_g = [0, 0, 255, 255, 255, 255, 255, 255, 128, 0, 0, 0]
cmap_b = [128, 255, 255, 136, 102, 102, 51, 0, 0, 0, 0, 0]

# Frame edges in page pixels
col_left = [[178, 1053, 1923, 2782], [178, 1051, 1923, 2782], [178, 1051, 1923, 2782]]
col_width = [618, 615, 618, 618]
row_top = [120, 780, 1452]
row_height = [541, 539, 539]
bar_extra = [[0, 2, 0, 0], [0, 2, 0, 0], [0, 0, 0, 0]]
title_left = [422, 1224, 2002, 3048]
row_label_bottom = [469, 1159, 1826]

INK = "#262626"
FONT = "Liberation Serif"


def merged(base, edits):
    cells = {(x, y): v for x, y, v in base}
    cells.update({(x, y): v for x, y, v in edits})
    return [(x, y, v) for (x, y), v in cells.items()]


panels = [
    [r1c1, r1c2, r1c3, r1c4],
    [r2c1, r2c2, merged(r1c3, r2c3_edits), merged(r1c4, r2c4_edits)],
    [r3c1, r3c2, merged(r1c3, r3c3_edits), merged(r1c4, r3c4_edits)],
]

levels = np.linspace(-30, 0, 512)
reds = np.interp(levels, cmap_db, cmap_r)
greens = np.interp(levels, cmap_db, cmap_g)
blues = np.interp(levels, cmap_db, cmap_b)
palette = ["#%02x%02x%02x" % (int(r), int(g), int(b)) for r, g, b in zip(reds, greens, blues)]
mapper = LinearColorMapper(palette=palette, low=-30, high=0)

GAP_RIGHT = 6     # panel right border
GAP_BAR = 10      # bar left border
BAR_W = 33
BAR_RIGHT = 72
BOTTOM = 62


def inner_axis():
    return LinearAxis(ticker=FixedTicker(ticks=axis_ticks), major_tick_in=7, major_tick_out=0,
                      minor_tick_line_color=None, major_label_standoff=0,
                      major_label_text_font_size="0px", major_label_text_color=None,
                      axis_line_color=INK, major_tick_line_color=INK, major_tick_line_width=2)


def make_panel(points, left_border, top_border, w, h):
    p = figure(output_backend="svg", toolbar_location=None, frame_width=w, frame_height=h,
               x_range=Range1d(0.5, 128.5), y_range=Range1d(128.5, 0.5),
               min_border_left=left_border, min_border_right=GAP_RIGHT,
               min_border_top=top_border, min_border_bottom=BOTTOM)
    grid = np.full((128, 128), -30.0)
    for x, y, v in points:
        grid[y - 1, x - 1] = v
    p.image(image=[grid], x=0.5, y=0.5, dw=128, dh=128, color_mapper=mapper)
    p.grid.visible = False
    for ax in (p.xaxis, p.yaxis):
        ax.ticker = FixedTicker(ticks=axis_ticks)
        ax.major_tick_in = 7
        ax.major_tick_out = 0
        ax.minor_tick_line_color = None
        ax.axis_line_color = INK
        ax.major_tick_line_color = INK
        ax.major_tick_line_width = 2
        ax.major_label_text_font = FONT
        ax.major_label_text_font_size = "36px"
        ax.major_label_text_color = INK
        ax.major_label_standoff = 12
    p.add_layout(inner_axis(), "above")
    p.add_layout(inner_axis(), "right")
    p.outline_line_color = INK
    p.outline_line_width = 2
    return p


def make_bar(left_gap, top_border, h):
    p = figure(output_backend="svg", toolbar_location=None, frame_width=BAR_W, frame_height=h,
               x_range=Range1d(0, 1), y_range=Range1d(-30, 0), x_axis_type=None,
               y_axis_location="right", min_border_left=left_gap, min_border_right=BAR_RIGHT,
               min_border_top=top_border, min_border_bottom=BOTTOM)
    ramp = np.linspace(-30, 0, 512).reshape(512, 1)
    p.image(image=[ramp], x=0, y=-30, dw=1, dh=30, color_mapper=mapper)
    p.grid.visible = False
    ax = p.yaxis
    ax.ticker = FixedTicker(ticks=bar_ticks)
    ax.major_label_overrides = {t: str(t) for t in bar_ticks}
    ax.major_tick_in = 7
    ax.major_tick_out = 0
    ax.minor_tick_line_color = None
    ax.axis_line_color = INK
    ax.major_tick_line_color = INK
    ax.major_tick_line_width = 2
    ax.major_label_text_font = FONT
    ax.major_label_text_font_size = "36px"
    ax.major_label_text_color = INK
    ax.major_label_standoff = 13
    p.outline_line_color = INK
    p.outline_line_width = 3
    return p


rows = []
prev_bottom = 0
for r in range(3):
    top_border = row_top[r] - prev_bottom
    h = row_height[r]
    prev_right = 0
    children = []
    for c in range(4):
        left = col_left[r][c]
        w = col_width[c]
        panel = make_panel(panels[r][c], left - prev_right, top_border, w, h)
        if r == 0:
            panel.add_layout(Title(text=col_titles[c], align="left",
                                   offset=title_left[c] - left,
                                   standoff=22, text_font=FONT, text_font_size="83px",
                                   text_font_style="normal", text_color="black"), "above")
        if c == 0:
            panel.add_layout(Title(text=row_titles[r], align="left",
                                   offset=row_top[r] + h - row_label_bottom[r],
                                   standoff=13, text_font=FONT, text_font_size="83px",
                                   text_font_style="normal", text_color="black"), "left")
        left_gap = GAP_BAR + bar_extra[r][c]
        bar = make_bar(left_gap, top_border, h)
        children += [panel, bar]
        prev_right = left + w + GAP_RIGHT + left_gap + BAR_W + BAR_RIGHT
    rows.append(row(*children, spacing=0))
    prev_bottom = row_top[r] + h + BOTTOM

root = column(*rows, spacing=0)
open("out.html", "w").write(file_html(root, INLINE))
